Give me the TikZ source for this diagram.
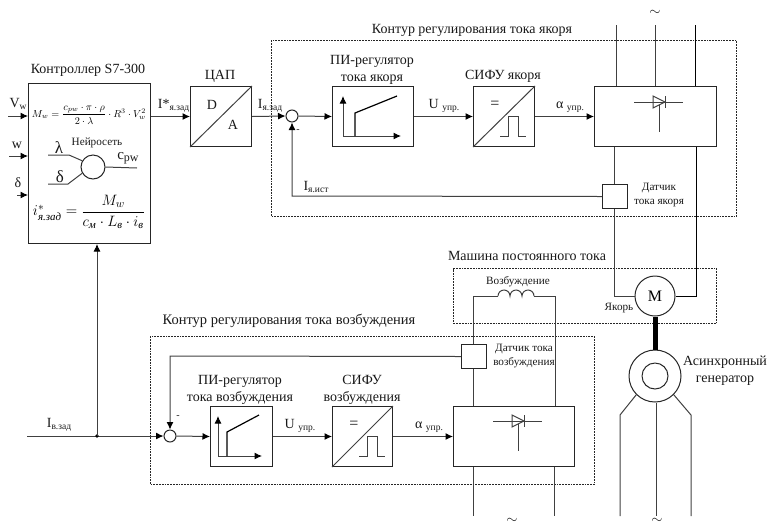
\documentclass[tikz,border=0pt]{standalone}
\usepackage{amsmath}
\usepackage{graphicx}
\usepackage{fontspec}
\setmainfont{Liberation Serif}
\usetikzlibrary{arrows.meta,positioning}
\newcommand{\fs}[1]{\fontsize{#1}{#1}\selectfont}
\newcommand{\sbs}[1]{\raisebox{-2pt}{\fs{9.5}#1}}
\tikzset{
  x=1pt,y=-1pt,
  wire/.style={draw=black!75,line width=1pt},
  blk/.style={draw=black!85,line width=1pt,fill=none,inner sep=0pt,anchor=north west},
  arr/.style={wire,-{Latex[length=7.5pt,width=7pt,black]}},
  darr/.style={wire,{Latex[length=7.5pt,width=7pt,black]}-{Latex[length=7.5pt,width=7pt,black]}},
  cont/.style={draw=black!80,line width=0.8pt,dash pattern=on 1.8pt off 1pt},
  txt/.style={inner sep=0pt,align=center,font=\fs{14},text=black!90},
  two/.style={txt,font=\fontsize{14}{17}\selectfont},
  sml/.style={inner sep=0pt,align=center,font=\fontsize{11.2}{14}\selectfont,text=black!90},
  sumc/.style={circle,draw=black!85,line width=1pt,minimum size=12pt,inner sep=0pt},
}
\begin{document}
\begin{tikzpicture}
\useasboundingbox (0,0) rectangle (767,523);
% containers
\node[cont,blk,minimum width=465pt,minimum height=176pt] (c1) at (271,40) {};
\node[cont,blk,minimum width=263pt,minimum height=55pt] (c2) at (453,268) {};
\node[cont,blk,minimum width=444pt,minimum height=148pt] (c3) at (150,336) {};
\node[txt] (tc1) at (472,30) {Контур регулирования тока якоря};
\node[txt] (tc2) at (527,256) {Машина постоянного тока};
\node[txt,font=\fs{14.5}] (tc3) at (289,321) {Контур регулирования тока возбуждения};
% controller
\node[blk,minimum width=122pt,minimum height=160pt] (ctrl) at (28,83) {};
\node[txt] (tctrl) at (88,70) {Контроллер S7-300};
\coordinate (vin) at (8,116);
\coordinate (win) at (9,156);
\coordinate (din) at (17,195);
\draw[arr] (vin) -- (vin -| ctrl.west);
\draw[arr] (win) -- (win -| ctrl.west);
\draw[arr] (din) -- (din -| ctrl.west);
\node[txt] (lv) at (18,104) {V\sbs{w}};
\node[txt] (lw) at (17,145) {w};
\node[txt] (ld) at (18,183) {δ};
\node[inner sep=0pt,font=\fs{10}] (f1) at (89,115) {\resizebox{114pt}{!}{$M_{w}=\dfrac{c_{pw}\cdot\pi\cdot\rho}{2\cdot\lambda}\cdot R^{3}\cdot V_{w}^{2}$}};
\node[inner sep=0pt,font=\fs{15}] (f2) at (89,212) {\resizebox{112pt}{!}{$i^{*}_{\text{\itshape я.зад}}=\dfrac{M_{w}}{c_{\text{\itshape м}}\cdot L_{\text{\itshape в}}\cdot i_{\text{\itshape в}}}$}};
\node[sumc,minimum size=24pt] (nn) at (93,167) {};
\coordinate (la) at (48,155);
\coordinate (de) at (48,184);
\coordinate (cp) at (137,168);
\draw[wire] (la) -- (69,155) -- (nn.150);
\draw[wire] (de) -- (68,184) -- (nn.210);
\draw[wire] (nn.east) -- (cp);
\node[txt,font=\fs{17}] (tla) at (59,148) {λ};
\node[txt,font=\fs{17}] (tde) at (60,177) {δ};
\node[sml] (tnn) at (97,143) {Нейросеть};
\node[txt,font=\fs{15}] (tcp) at (128,158) {c\raisebox{-2pt}{\fs{12}pw}};
% DAC
\node[blk,minimum width=61pt,minimum height=60pt] (dac) at (190,86) {};
\draw[wire] (dac.south west) -- (dac.north east);
\node[txt] (tdac) at (220,76) {ЦАП};
\node[txt] (td) at (212,105) {D};
\node[txt] (ta) at (233,125) {A};
\draw[arr] (ctrl.east |- dac.west) -- (dac.west);
\node[txt] (tiz) at (173.5,106) {I*\sbs{я.зад}};
% armature loop
\node[sumc] (s1) at (292,116) {};
\draw[arr] (dac.east) -- (s1.west);
\node[txt] (tiz2) at (270,106) {I\sbs{я.зад}};
\node[blk,minimum width=81pt,minimum height=60pt] (pi1) at (332,86) {};
\node[two] (tpi1) at (372,69.5) {ПИ-регулятор\\тока якоря};
\draw[arr] (s1.east) -- (pi1.west);
\draw[darr] (343,96) -- (343,136) -- (401,136);
\draw[wire,line width=1.2pt,black] (355,136) -- (355,113) -- (397,96);
\node[blk,minimum width=61pt,minimum height=60pt] (sf1) at (473,86) {};
\node[txt] (tsf1) at (503,76) {СИФУ якоря};
\draw[wire] (sf1.south west) -- (sf1.north east);
\node[txt,font=\fs{16}] (eq1) at (495,105) {=};
\draw[wire] (500,136) -- (508,136) -- (508,116) -- (518,116) -- (518,136) -- (526,136);
\draw[arr] (pi1.east) -- (sf1.west);
\node[txt] (tu1) at (444,106) {U \sbs{упр.}};
\node[blk,minimum width=122pt,minimum height=60pt] (th1) at (594,86) {};
\draw[arr] (sf1.east) -- (th1.west);
\node[txt] (ta1) at (570,107) {α \sbs{упр.}};
\draw[wire] (634,102) -- (683,102);
\draw[wire] (653,96) -- (653,108) -- (665,102) -- cycle;
\draw[wire] (665,96) -- (665,108) (659,105) -- (659,132);
\coordinate (t1) at (616,25);
\coordinate (t2) at (655,25);
\coordinate (t3) at (695,25);
\draw[wire] (t1) -- (t1 |- th1.north);
\draw[wire] (t2) -- (t2 |- th1.north);
\draw[wire,black] (t3) -- (t3 |- th1.north);
\node[txt] (tilde1) at (655,13) {$\sim$};
% sensor
\node[blk,minimum width=25pt,minimum height=24pt] (sn1) at (602,184) {};
\node[sml] (tsn1) at (659,195) {Датчик\\тока якоря};
\node[sumc,minimum size=40pt] (mot) at (655,296) {\fs{16}М};
\coordinate (lo) at (614,296);
\coordinate (ro) at (696,296);
\draw[wire] (sn1.north -| lo) -- (lo |- th1.south);
\draw[wire] (lo |- sn1.south) -- (lo) -- (mot.west);
\draw[wire,black] (ro |- th1.south) -- (ro) -- (mot.east);
\draw[arr] (sn1.west) -- (292,196) -- (s1.south);
\node[txt] (tii) at (316,187) {I\sbs{я.ист}};
\node[txt,font=\fs{10}] (m1) at (298,131) {-};
\node[sml] (tya) at (619,308) {Якорь};
% generator
\node[sumc,minimum size=52pt] (gen) at (655,376) {};
\node[sumc,minimum size=26pt] (rot) at (655,376) {};
\draw[black,line width=5pt] (mot.south) -- (gen.north);
\node[two] (tgen) at (725,371) {Асинхронный\\генератор};
\coordinate (g1) at (620,516);
\coordinate (g2) at (656,516);
\coordinate (g3) at (691,516);
\draw[wire] (gen.225) -- (620,415) -- (g1);
\draw[wire] (gen.south -| g2) -- (g2);
\draw[wire] (gen.-45) -- (691,415) -- (g3);
\node[txt] (tilde2) at (657,521) {$\sim$};
% excitation
\node[blk,minimum width=121pt,minimum height=60pt] (th2) at (453,406) {};
\node[blk,minimum width=25pt,minimum height=24pt] (sn2) at (461,344) {};
\node[sml] (tsn2) at (524,356) {Датчик тока\\возбуждения};
\node[sml] (tvz) at (518,282) {Возбуждение};
\coordinate (ex1) at (473,296);
\coordinate (ex2) at (555,296);
\draw[wire] (sn2.north -| ex1) -- (ex1) -- (498,296);
\draw[wire] (498,296) arc[start angle=180,end angle=0,radius=6pt] arc[start angle=180,end angle=0,radius=6pt] arc[start angle=180,end angle=0,radius=6pt];
\draw[wire] (534,296) -- (ex2) -- (ex2 |- th2.north);
\draw[wire] (ex1 |- sn2.south) -- (ex1 |- th2.north);
\coordinate (b1) at (473,516);
\coordinate (b2) at (554,516);
\draw[wire] (b1 |- th2.south) -- (b1);
\draw[wire] (b2 |- th2.south) -- (b2);
\node[txt] (tilde3) at (512,521) {$\sim$};
\draw[wire] (493,421) -- (542,421);
\draw[wire] (512,415) -- (512,427) -- (524,421) -- cycle;
\draw[wire] (524,415) -- (524,427) (518,424) -- (518,451);
% lower loop
\coordinate (ivz) at (27,436);
\node[sumc] (s2) at (170,436) {};
\draw[arr] (ivz) -- (s2.west);
\node[txt] (tiv) at (59,425) {I\sbs{в.зад}};
\coordinate (jn) at (97,436);
\fill[black] (jn) circle (1.8pt);
\draw[arr] (jn) -- (ctrl.south -| jn);
\node[blk,minimum width=62pt,minimum height=60pt] (pi2) at (210,406) {};
\node[two] (tpi2) at (240,390) {ПИ-регулятор\\тока возбуждения};
\draw[arr] (s2.east) -- (pi2.west);
\draw[darr] (218,416) -- (218,456) -- (262,456);
\draw[wire,line width=1.2pt,black] (227,456) -- (227,432) -- (259,415);
\node[blk,minimum width=60pt,minimum height=60pt] (sf2) at (332,406) {};
\node[two] (tsf2) at (362,390) {СИФУ\\возбуждения};
\draw[wire] (sf2.south west) -- (sf2.north east);
\node[txt,font=\fs{16}] (eq2) at (354,425) {=};
\draw[wire] (359,456) -- (367,456) -- (367,436) -- (377,436) -- (377,456) -- (385,456);
\draw[arr] (pi2.east) -- (sf2.west);
\node[txt] (tu2) at (300,426) {U \sbs{упр.}};
\draw[arr] (sf2.east) -- (th2.west);
\node[txt] (ta2) at (429,427) {α \sbs{упр.}};
\draw[arr] (sn2.west) -- (170,356) -- (s2.north);
\node[txt,font=\fs{10}] (m2) at (178,417) {-};
\end{tikzpicture}
\end{document}
